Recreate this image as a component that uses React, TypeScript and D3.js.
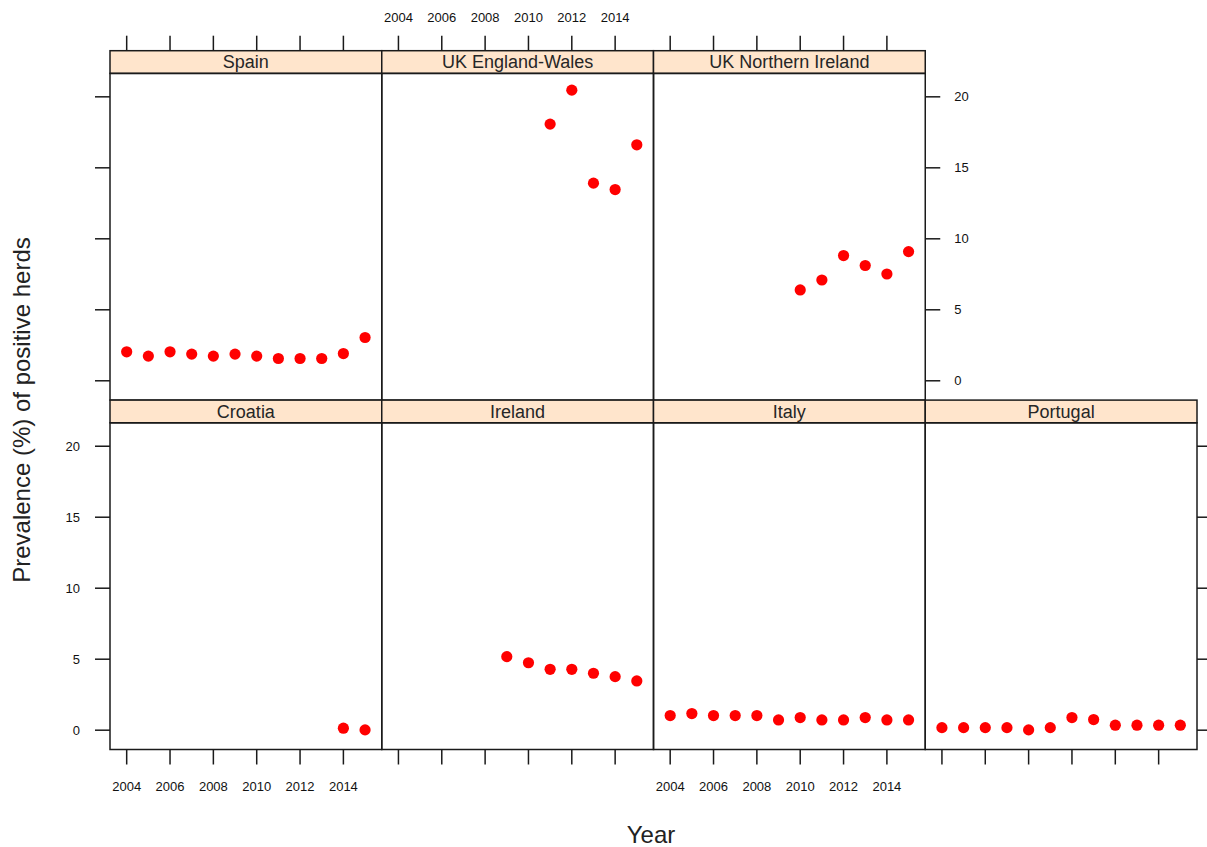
import React from "react";
import * as d3 from "d3";

const years = [2004, 2005, 2006, 2007, 2008, 2009, 2010, 2011, 2012, 2013, 2014, 2015];
const xTicks = [2004, 2006, 2008, 2010, 2012, 2014];
const yTicks = [0, 5, 10, 15, 20];

const spainValues = [2.04, 1.74, 2.04, 1.88, 1.74, 1.88, 1.74, 1.57, 1.57, 1.57, 1.92, 3.05];
const ukEWYears = [2011, 2012, 2013, 2014, 2015];
const ukEWValues = [18.08, 20.47, 13.92, 13.47, 16.62];
const ukNIYears = [2010, 2011, 2012, 2013, 2014, 2015];
const ukNIValues = [6.4, 7.1, 8.82, 8.12, 7.52, 9.1];
const croatiaYears = [2014, 2015];
const croatiaValues = [0.14, 0.02];
const irelandYears = [2009, 2010, 2011, 2012, 2013, 2014, 2015];
const irelandValues = [5.18, 4.75, 4.29, 4.29, 4.01, 3.77, 3.47];
const italyValues = [1.03, 1.17, 1.03, 1.03, 1.03, 0.72, 0.89, 0.72, 0.72, 0.89, 0.72, 0.72];
const portugalValues = [0.18, 0.18, 0.18, 0.18, 0.02, 0.18, 0.89, 0.75, 0.35, 0.35, 0.35, 0.35];

type Panel = { name: string; row: number; col: number; xs: number[]; ys: number[] };

const panels: Panel[] = [
  { name: "Spain", row: 0, col: 0, xs: years, ys: spainValues },
  { name: "UK England-Wales", row: 0, col: 1, xs: ukEWYears, ys: ukEWValues },
  { name: "UK Northern Ireland", row: 0, col: 2, xs: ukNIYears, ys: ukNIValues },
  { name: "Croatia", row: 1, col: 0, xs: croatiaYears, ys: croatiaValues },
  { name: "Ireland", row: 1, col: 1, xs: irelandYears, ys: irelandValues },
  { name: "Italy", row: 1, col: 2, xs: years, ys: italyValues },
  { name: "Portugal", row: 1, col: 3, xs: years, ys: portugalValues },
];

const W = 1207;
const H = 847;
const left0 = 110;
const colW = 271.75;
const top0 = 50.7;
const stripH = 22.7;
const panelH = 326.7;
const rowH = stripH + panelH;
const tickLen = 15;
const font = "'Liberation Sans', Arial, sans-serif";
const axisCol = "#1a1a1a";

export default function App() {
  const x = d3.scaleLinear().domain([2003.23, 2015.77]).range([0, colW]);
  const y = d3.scaleLinear().domain([-1.36, 21.65]).range([panelH, 0]);

  const els: React.ReactNode[] = [];

  panels.forEach((p) => {
    const px = left0 + p.col * colW;
    const sy = top0 + p.row * rowH;
    const py = sy + stripH;
    const key = p.name;
    // strip
    els.push(
      <g key={key + "strip"}>
        <rect x={px} y={sy} width={colW} height={stripH} fill="#ffe5cc" stroke={axisCol} strokeWidth={1.5} />
        <text x={px + colW / 2} y={sy + stripH / 2 + 6.3} textAnchor="middle" fontFamily={font} fontSize={18} fill="#262626">
          {p.name}
        </text>
      </g>
    );
    // points
    p.xs.forEach((xv, i) => {
      els.push(<circle key={key + "pt" + i} cx={px + x(xv)} cy={py + y(p.ys[i])} r={5.6} fill="#ff0000" />);
    });
    // panel border
    els.push(<rect key={key + "box"} x={px} y={py} width={colW} height={panelH} fill="none" stroke={axisCol} strokeWidth={1.5} />);

    // top ticks (top row only)
    if (p.row === 0) {
      xTicks.forEach((t) => {
        const tx = px + x(t);
        els.push(<line key={key + "tt" + t} x1={tx} x2={tx} y1={sy} y2={sy - tickLen} stroke={axisCol} strokeWidth={1.5} />);
        if (p.col === 1) {
          els.push(
            <text key={key + "tl" + t} x={tx} y={22} textAnchor="middle" fontFamily={font} fontSize={13} fill="#111">
              {t}
            </text>
          );
        }
      });
    }
    // bottom ticks (bottom row)
    if (p.row === 1) {
      xTicks.forEach((t) => {
        const tx = px + x(t);
        els.push(<line key={key + "bt" + t} x1={tx} x2={tx} y1={py + panelH} y2={py + panelH + tickLen} stroke={axisCol} strokeWidth={1.5} />);
        if (p.col % 2 === 0) {
          els.push(
            <text key={key + "bl" + t} x={tx} y={py + panelH + 41} textAnchor="middle" fontFamily={font} fontSize={13} fill="#111">
              {t}
            </text>
          );
        }
      });
    }
    // left ticks (col 0)
    if (p.col === 0) {
      yTicks.forEach((t) => {
        const ty = py + y(t);
        els.push(<line key={key + "lt" + t} x1={px} x2={px - tickLen} y1={ty} y2={ty} stroke={axisCol} strokeWidth={1.5} />);
        if (p.row === 1) {
          els.push(
            <text key={key + "ll" + t} x={80} y={ty + 4.5} textAnchor="end" fontFamily={font} fontSize={13} fill="#111">
              {t}
            </text>
          );
        }
      });
    }
    // right ticks: rightmost panel of each row
    const lastCol = p.row === 0 ? 2 : 3;
    if (p.col === lastCol) {
      yTicks.forEach((t) => {
        const ty = py + y(t);
        const rx = px + colW;
        els.push(<line key={key + "rt" + t} x1={rx} x2={rx + tickLen} y1={ty} y2={ty} stroke={axisCol} strokeWidth={1.5} />);
        if (p.row === 0) {
          els.push(
            <text key={key + "rl" + t} x={rx + 29} y={ty + 4.5} textAnchor="start" fontFamily={font} fontSize={13} fill="#111">
              {t}
            </text>
          );
        }
      });
    }
  });

  return (
    <svg width={W} height={H} style={{ position: "absolute", left: 0, top: 0, background: "#fff" }}>
      <rect x={0} y={0} width={W} height={H} fill="#fff" />
      {els}
      <text x={651} y={843} textAnchor="middle" fontFamily={font} fontSize={24} fill="#222">
        Year
      </text>
      <text transform="translate(30,410) rotate(-90)" textAnchor="middle" fontFamily={font} fontSize={24} fill="#222">
        Prevalence (%) of positive herds
      </text>
    </svg>
  );
}
